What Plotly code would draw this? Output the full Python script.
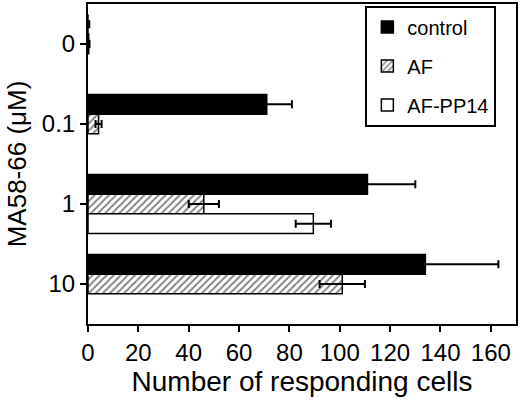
import plotly.graph_objects as go

# MA58-66 concentrations (uM), top to bottom
doses = ["0", "0.1", "1", "10"]

control = [0, 71, 111, 134]
control_err = [0.5, 10, 19, 29]

af = [0.3, 4.2, 46, 101]
af_err = [0.3, 1.2, 6, 9]

af_pp14 = [None, None, 89.5, None]
af_pp14_err = [0, 0, 7, 0]

x_ticks = [0, 20, 40, 60, 80, 100, 120, 140, 160]

FONT = "Liberation Sans, Arial, Helvetica, sans-serif"

fig = go.Figure()

err_style = dict(type='data', color='black', thickness=2, width=4)

fig.add_trace(go.Bar(
    y=doses, x=control, orientation='h', name='control',
    marker=dict(color='black', line=dict(color='black', width=1.5)),
    error_x=dict(array=control_err, **err_style),
    legendgroup='c',
))
fig.add_trace(go.Bar(
    y=doses, x=af, orientation='h', name='AF',
    marker=dict(color='white', line=dict(color='black', width=1.5),
                pattern=dict(shape='/', fgcolor='black', bgcolor='white',
                             size=5, solidity=0.35)),
    error_x=dict(array=af_err, **err_style),
    legendgroup='a',
))
fig.add_trace(go.Bar(
    y=doses, x=af_pp14, orientation='h', name='AF-PP14',
    marker=dict(color='white', line=dict(color='black', width=1.5)),
    error_x=dict(array=af_pp14_err, **err_style),
    legendgroup='p',
))

fig.update_layout(
    width=520, height=402,
    margin=dict(l=88, r=3, t=2, b=78),
    barmode='group',
    bargap=0.26,
    bargroupgap=0,
    plot_bgcolor='white',
    paper_bgcolor='white',
    font=dict(family=FONT, color='black', size=24),
    legend=dict(
        x=0.648, y=0.995, xanchor='left', yanchor='top',
        bordercolor='black', borderwidth=2, bgcolor='white',
        font=dict(size=20), traceorder='grouped', tracegroupgap=10,
    ),
    xaxis=dict(
        range=[0, 170], tickvals=x_ticks,
        ticks='outside', ticklen=6, tickwidth=1.5, tickcolor='black',
        showline=True, linewidth=2, linecolor='black', mirror=True,
        showgrid=False, zeroline=False,
        tickfont=dict(size=24),
        title=dict(text='Number of responding cells', font=dict(size=28), standoff=0),
    ),
    yaxis=dict(
        type='category', autorange='reversed',
        ticks='outside', ticklen=6, tickwidth=1.5, tickcolor='black',
        showline=True, linewidth=2, linecolor='black', mirror=True,
        showgrid=False, zeroline=False,
        tickfont=dict(size=24),
        title=dict(text='MA58-66 (μM)', font=dict(size=26), standoff=8),
    ),
)

# drop the browser's default page margin so the figure sits at the top-left corner
fig.write_html("out.html", config={'displayModeBar': False},
               post_script="document.body.style.margin='0';")
